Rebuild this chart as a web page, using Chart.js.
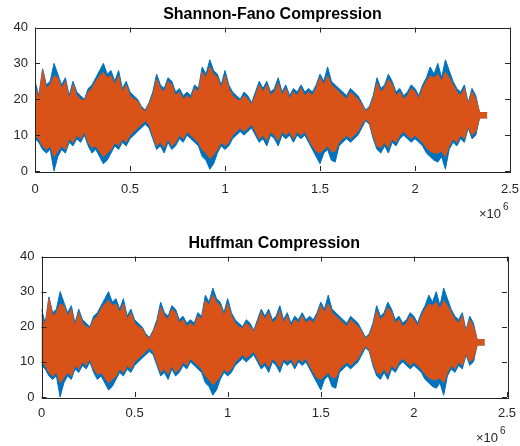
<!DOCTYPE html>
<html>
<head>
<meta charset="utf-8">
<script src="https://cdn.jsdelivr.net/npm/chart.js@4.4.1/dist/chart.umd.min.js"></script>
<style>
  html, body { margin: 0; padding: 0; background: #fff; }
  #wrap { position: relative; width: 520px; height: 446px; }
  canvas { position: absolute; left: 0; }
</style>
</head>
<body>
<div id="wrap">
  <canvas id="sfChart" width="520" height="225" style="top:0px;width:520px;height:225px"></canvas>
  <canvas id="hfChart" width="520" height="221" style="top:225px;width:520px;height:221px"></canvas>
</div>
<script>
// Envelope of the signal, one value every 0.02e6 samples
const sampleStep = 20000;
const xTicks = [0, 0.5, 1, 1.5, 2, 2.5];   // x 10^6
const yTicks = [0, 10, 20, 30, 40];

// original signal (blue): upper and lower envelope
const blueUpper = [
  25, 21, 28.5, 24, 25, 30, 27, 24, 26, 21,
  25, 22, 21, 20, 23, 24, 26, 28, 30, 27,
  28, 25, 28, 23, 25, 22, 21, 20, 18, 17,
  19, 22, 27, 24, 23, 26, 25, 22, 23, 21,
  22, 21, 24, 23, 29, 27, 31, 28, 27, 24,
  28, 24, 22, 21, 20, 22, 21, 19, 22, 25,
  23, 25, 22, 23, 26, 22, 24, 21, 23, 22,
  24, 22, 23, 22, 24, 27, 25, 29, 25, 24,
  23, 22, 21, 23, 22, 21, 19, 17, 18, 21,
  26, 23, 24, 27, 25, 22, 23, 21, 22, 24,
  23, 21, 24, 26, 29, 27, 30, 26, 31, 28,
  25, 23, 22, 24, 19, 23, 21, 16.3, 16.3, 16.3
];
const blueLower = [
  9, 8, 6, 5, 6, 0, 4, 6, 5, 8,
  7, 9, 8, 10, 7, 5, 6, 4, 2, 3,
  5, 7, 6, 8, 7, 9, 10, 11, 12, 13,
  12, 9, 6, 7, 5, 8, 6, 7, 9, 8,
  10, 9, 8, 7, 4, 3, 0.5, 2, 5, 7,
  6, 7, 9, 10, 11, 10, 11, 12, 10, 8,
  9, 7, 10, 9, 7, 10, 9, 10, 8, 10,
  9, 10, 8, 6, 4, 2, 5, 6, 3, 2.5,
  7, 8, 9, 8, 9, 10, 12, 14, 13, 9,
  6, 5, 7, 5, 8, 7, 9, 10, 9, 8,
  9, 8, 7, 5, 4, 3, 2.5, 4, 0.5, 6,
  8, 7, 9, 8, 12, 9, 10, 14.8, 14.8, 14.8
];
// decoded signal (orange): upper and lower envelope
const orangeUpper = [
  23.5, 20, 28, 23, 24, 26.5, 26, 23, 25, 20,
  24, 21, 20, 19.5, 22, 23, 25, 26.5, 27.5, 26,
  26.5, 24, 26.5, 22, 24, 21, 20, 19.5, 17.5, 16.5,
  18.5, 21, 25.5, 23, 22, 25, 24, 21, 22, 20,
  21, 20, 23, 22, 27.5, 26, 29, 27, 26, 23,
  26.5, 23, 21, 20, 19.5, 21, 20, 18.5, 21, 24,
  22, 24, 21, 22, 24.5, 21, 23, 20, 22, 21,
  23, 21, 22, 21, 23, 26, 24, 26.5, 24, 23,
  22, 21, 20, 22, 21, 20, 18.5, 16.5, 17.5, 20,
  24.5, 22, 23, 25.5, 24, 21, 22, 20, 21, 23,
  22, 20, 23, 25, 26.5, 26, 27, 25, 27.5, 26,
  24, 22, 21, 23, 18.5, 22, 20, 16.3, 16.3, 16.3
];
const orangeLower = [
  10, 9, 7, 6, 7, 4, 5.5, 7, 6, 9,
  8, 10, 9, 11, 8, 6.5, 7, 5.5, 4, 5,
  6, 8, 7, 9, 8, 10, 11, 12, 13, 14,
  13, 10, 7, 8, 6.5, 9, 7, 8, 10, 9,
  11, 10, 9, 8, 6, 5, 3.5, 4.5, 6, 8,
  7, 8, 10, 11, 12, 11, 12, 13, 11, 9,
  10, 8.5, 11, 10, 8.5, 11, 10, 11, 9, 11,
  10, 11, 9, 7, 5.5, 5, 6, 7, 5.5, 5.5,
  8, 9, 10, 9, 10, 11, 13, 14.5, 13.5, 10,
  7, 6.5, 8, 6.5, 9, 8, 10, 11, 10, 9,
  10, 9, 8, 6.5, 5.5, 5, 5, 5.5, 4, 7,
  9, 8, 10, 9, 12.5, 10, 11, 14.8, 14.8, 14.8
];

const BLUE = '#0072BD';
const ORANGE = '#D95319';
const AXIS = '#262626';
const FONT = '"Liberation Sans", Arial, Helvetica, sans-serif';

// box, inner ticks, title and the x10^6 label, MATLAB style
const matlabAxes = {
  id: 'matlabAxes',
  afterDraw(chart, args, opts) {
    const { ctx, chartArea: a, scales: { x, y } } = chart;
    ctx.save();
    ctx.strokeStyle = AXIS;
    ctx.lineWidth = 1;
    ctx.strokeRect(Math.round(a.left) + 0.5, Math.round(a.top) + 0.5,
      Math.round(a.right - a.left), Math.round(a.bottom - a.top));
    ctx.beginPath();
    x.ticks.forEach(t => {
      const px = Math.round(x.getPixelForValue(t.value)) + 0.5;
      ctx.moveTo(px, a.bottom); ctx.lineTo(px, a.bottom - 5);
      ctx.moveTo(px, a.top); ctx.lineTo(px, a.top + 5);
    });
    y.ticks.forEach(t => {
      const py = Math.round(y.getPixelForValue(t.value)) + 0.5;
      ctx.moveTo(a.left, py); ctx.lineTo(a.left + 5, py);
      ctx.moveTo(a.right, py); ctx.lineTo(a.right - 5, py);
    });
    ctx.stroke();

    ctx.fillStyle = '#000';
    ctx.font = 'bold 16px ' + FONT;
    ctx.textAlign = 'center';
    ctx.textBaseline = 'alphabetic';
    ctx.fillText(opts.title, (a.left + a.right) / 2, opts.titleY);

    ctx.fillStyle = AXIS;
    ctx.font = '13px ' + FONT;
    ctx.textAlign = 'right';
    ctx.fillText('\u00d710', a.right - 9, a.bottom + opts.expDy);
    ctx.font = '10px ' + FONT;
    ctx.textAlign = 'left';
    ctx.fillText('6', a.right - 7, a.bottom + opts.expDy - 8);
    ctx.restore();
  }
};

function envelope(values) {
  return values.map((v, i) => ({ x: i * sampleStep, y: v }));
}

function makePlot(id, geo) {
  const band = (label, data, color, fill, order) => ({
    label, data: envelope(data), borderColor: color, backgroundColor: color,
    borderWidth: 1, pointRadius: 0, tension: 0, fill, order
  });
  return new Chart(document.getElementById(id), {
    type: 'line',
    data: {
      datasets: [
        band('original max', blueUpper, BLUE, '+1', 2),
        band('original min', blueLower, BLUE, false, 2),
        band('decoded max', orangeUpper, ORANGE, '+1', 1),
        band('decoded min', orangeLower, ORANGE, false, 1)
      ]
    },
    options: {
      responsive: false,
      devicePixelRatio: 1,
      animation: false,
      layout: { padding: { top: geo.top, right: geo.right, left: 0, bottom: 0 } },
      plugins: {
        legend: { display: false },
        tooltip: { enabled: false },
        matlabAxes: { title: geo.title, titleY: geo.titleY, expDy: geo.expDy }
      },
      scales: {
        x: {
          type: 'linear', min: 0, max: 2.5e6,
          afterBuildTicks: s => { s.ticks = xTicks.map(v => ({ value: v * 1e6 })); },
          afterFit: s => { s.height = geo.xHeight; s.paddingLeft = 0; s.paddingRight = 0; },
          grid: { display: false, drawTicks: false },
          border: { display: false },
          ticks: { padding: geo.xPad, color: AXIS, font: { family: FONT, size: 13 },
                   maxRotation: 0, callback: v => String(v / 1e6) }
        },
        y: {
          min: 0, max: 40,
          afterBuildTicks: s => { s.ticks = yTicks.map(v => ({ value: v })); },
          afterFit: s => { s.width = geo.left; s.paddingTop = 0; s.paddingBottom = 0; },
          grid: { display: false, drawTicks: false },
          border: { display: false },
          ticks: { padding: 7, color: AXIS, font: { family: FONT, size: 13 } }
        }
      }
    },
    plugins: [matlabAxes]
  });
}

makePlot('sfChart', { title: 'Shannon-Fano Compression', titleY: 18.5, top: 27.5, right: 10,
  left: 35, xHeight: 54, xPad: 11, expDy: 47 });
makePlot('hfChart', { title: 'Huffman Compression', titleY: 23, top: 31.5, right: 13,
  left: 41.5, xHeight: 49, xPad: 9, expDy: 45 });
</script>
</body>
</html>
